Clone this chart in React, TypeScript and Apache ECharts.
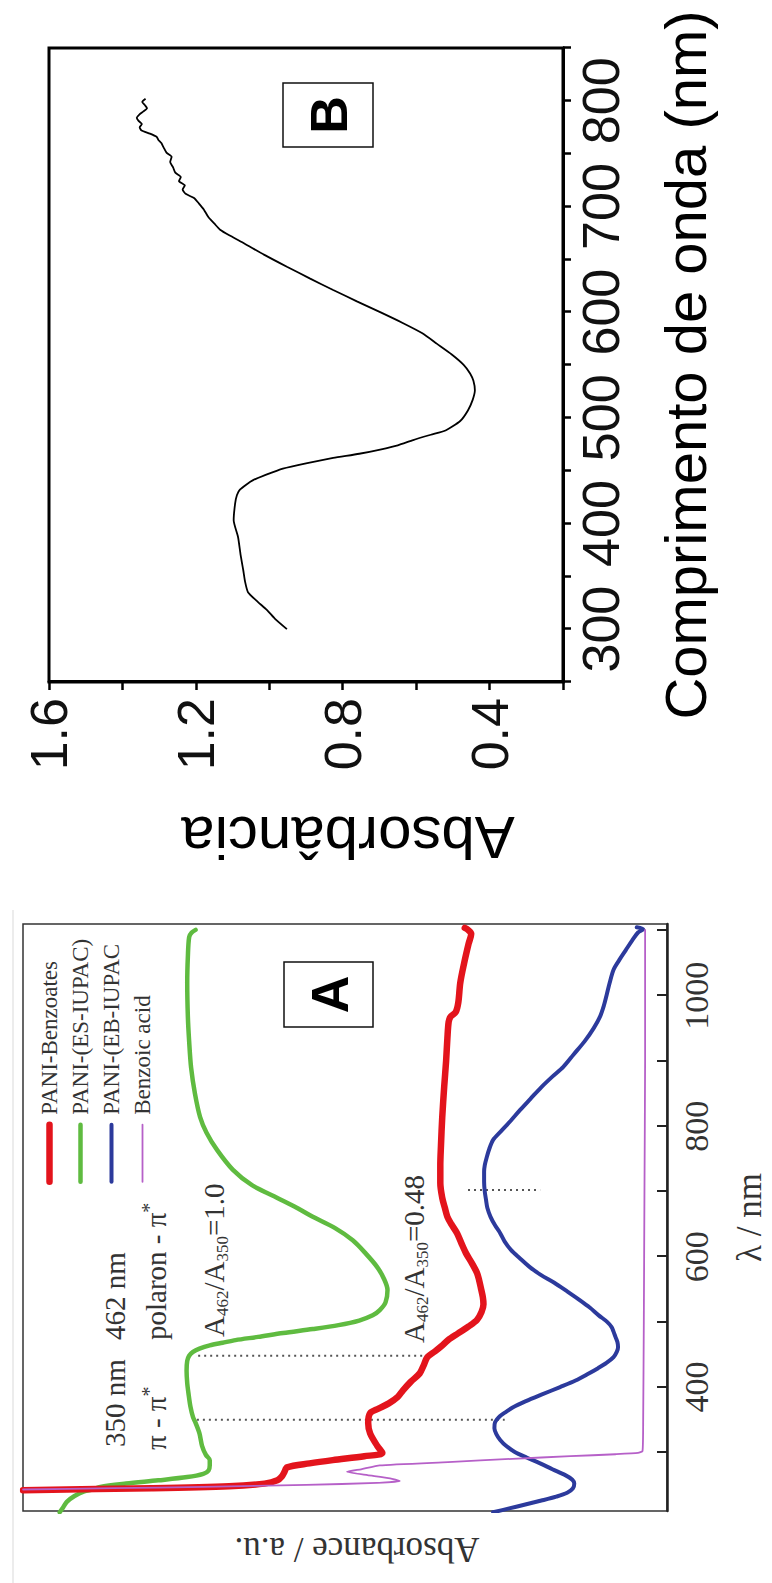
import React, { useEffect, useRef } from "react";
import * as echarts from "echarts";

// The original figure is landscape; it is drawn unrotated and the container is turned 90° CCW.
const CHART_W = 1583;
const CHART_H = 772;

const SERIF = "'Liberation Serif', 'Times New Roman', Times, serif";
const SANS = "'Liberation Sans', Arial, Helvetica, sans-serif";
const NARROW = "'Liberation Sans Narrow', 'Arial Narrow', 'Liberation Sans', sans-serif";

// ---------- Panel A (PANI spectra) ----------
const A_WL_LABELS = [400, 600, 800, 1000];
const A_WL_TICKS = [300, 400, 500, 600, 700, 800, 900, 1000, 1100];
const A_NAMES = ["PANI-Benzoates", "PANI-(ES-IUPAC)", "PANI-(EB-IUPAC", "Benzoic acid"];

const paniBenzoates: [number, number][] = [
  [242, 100], [245, 80], [248, 68], [252, 62.5], [257, 60.5], [263, 59.8], [270, 59.4], [277, 59],
  [283, 55.5], [288, 51.9], [294, 47], [299, 44.2], [310, 45], [329, 46.1], [345, 46.4], [360, 46.1],
  [367, 44.8], [375, 43.2], [385, 41.8], [395, 41], [408, 39.8], [421, 38.4], [433, 37.8], [446, 37.2],
  [455, 36], [463, 35], [472, 34], [482, 32.5], [493, 30.8], [503, 29.5], [515, 28.8], [527, 28.5],
  [538, 28.6], [552, 28.9], [565, 29.2], [575, 29.5], [590, 30.3], [605, 31.2], [620, 31.9], [636, 32.6],
  [650, 33.5], [661, 34.1], [675, 34.5], [690, 34.9], [713, 35.2], [740, 35.2], [770, 35.1], [814, 34.9],
  [860, 34.6], [900, 34.3], [935, 34.1], [960, 33.9], [968, 33.6], [975, 32.8], [990, 32.4], [1020, 32.1],
  [1050, 31.5], [1080, 30.8], [1095, 30.4], [1101, 30.9], [1104, 31.4],
];

const paniES: [number, number][] = [
  [208, 94.3], [215, 93.8], [224, 93.2], [233, 92], [240, 90.5], [243, 89.2], [247, 88], [252, 84],
  [257, 79], [262, 74.5], [267, 72], [272, 71.2], [280, 71], [288, 71], [296, 71.6], [310, 72.2],
  [329, 72.6], [345, 73.2], [354, 73.6], [370, 74], [390, 74.3], [406, 74.5], [425, 74.6], [440, 74.5],
  [448, 74.2], [454, 73.6], [459, 72.6], [464, 71], [468, 69], [472, 67], [477, 63.5], [483, 59.6],
  [489, 55], [495, 51], [502, 47.8], [510, 45.7], [518, 44.6], [530, 43.7], [549, 43.4], [565, 43.9],
  [584, 45], [605, 46.8], [625, 48.8], [644, 51.6], [661, 55], [675, 57.5], [690, 60.5], [710, 64.5],
  [733, 67.4], [764, 69.9], [790, 71.5], [814, 72.5], [850, 73.3], [890, 73.9], [930, 74.2], [968, 74.4],
  [1020, 74.5], [1060, 74.4], [1090, 74.2], [1097, 73.8], [1101, 73.2],
];

const paniEB: [number, number][] = [
  [208, 27], [214, 24.5], [220, 22], [226, 19.5], [232, 17.2], [238, 15.5], [245, 14.6], [252, 14.4],
  [258, 14.7], [265, 15.8], [274, 17.8], [283, 19.7], [292, 21.8], [301, 23.7], [310, 25], [319, 25.9],
  [328, 26.5], [337, 26.8], [346, 26.7], [355, 26], [362, 25], [369, 23.9], [378, 22], [388, 19.6],
  [400, 16.6], [410, 14.2], [420, 12.3], [429, 10.7], [437, 9.4], [446, 8.3], [454, 7.8], [461, 7.6],
  [469, 7.7], [477, 8], [485, 8.3], [492, 8.6], [500, 9.3], [510, 10.6], [522, 12], [533, 13.5],
  [546, 15.4], [560, 17.5], [572, 19.6], [584, 21.3], [598, 22.9], [610, 24.2], [623, 25.2], [636, 25.9],
  [648, 26.7], [661, 27.4], [675, 27.9], [687, 28.1], [700, 28.3], [715, 28.4], [730, 28.4], [740, 28.3],
  [752, 28], [765, 27.6], [779, 27], [792, 25.8], [808, 24.3], [825, 22.8], [842, 21.2], [860, 19.5],
  [876, 17.8], [891, 16.1], [910, 14.5], [930, 12.8], [950, 11.4], [968, 10.4], [985, 9.8], [1000, 9.4],
  [1020, 8.9], [1040, 8.3], [1055, 7.4], [1070, 6.4], [1085, 5.4], [1097, 4.5], [1102, 3.7], [1105, 4.7],
];

const benzoicAcid: [number, number][] = [
  [243, 100], [245, 86], [247, 72], [250, 56], [253, 45], [256, 41.5], [260, 43], [265, 46.5],
  [270, 49.7], [274, 47.5], [280, 44.6], [285, 34], [290, 24], [294, 15], [297, 8], [299, 4.5],
  [302, 3.8], [350, 3.7], [500, 3.6], [700, 3.5], [900, 3.4], [1101, 3.4],
];

const guide350: [number, number][] = [[350, 73.0], [350, 25.2]];
const guide462: [number, number][] = [[448, 72.8], [448, 36.8]];
const guide700: [number, number][] = [[702, 30.9], [702, 19.7]];

// ---------- Panel B ----------
const B_WL_LABELS = [300, 400, 500, 600, 700, 800];
const B_WL_TICKS = [250, 300, 350, 400, 450, 500, 550, 600, 650, 700, 750, 800, 850];
const B_ABS_LABELS = [0.4, 0.8, 1.2, 1.6];
const B_ABS_TICKS = [0.2, 0.4, 0.6, 0.8, 1.0, 1.2, 1.4, 1.6];

const spectrumB: [number, number][] = [
  [300, 0.952], [310, 0.985], [318, 1.006], [327, 1.035], [335, 1.058], [345, 1.066], [356, 1.071],
  [370, 1.078], [387, 1.085], [403, 1.097], [419, 1.093], [427, 1.088], [432, 1.08], [437, 1.062],
  [441, 1.044], [446, 1.01], [452, 0.963], [457, 0.9], [462, 0.826], [466, 0.755], [470, 0.698],
  [474, 0.65], [479, 0.608], [484, 0.56], [488, 0.52], [497, 0.48], [507, 0.459], [517, 0.446],
  [526, 0.44], [535, 0.444], [542, 0.453], [550, 0.47], [560, 0.503], [570, 0.543], [580, 0.583],
  [590, 0.638], [600, 0.698], [610, 0.76], [621, 0.826], [632, 0.89], [643, 0.952], [654, 1.012],
  [665, 1.068], [672, 1.105], [678, 1.134], [684, 1.15], [690, 1.166], [697, 1.178], [703, 1.192],
  [708, 1.205], [712, 1.228], [716, 1.236], [720, 1.23], [724, 1.246], [728, 1.241], [732, 1.256],
  [737, 1.262], [742, 1.27], [747, 1.266], [751, 1.28], [756, 1.288], [760, 1.294], [763, 1.302],
  [766, 1.307], [769, 1.325], [772, 1.348], [775, 1.353], [778, 1.347], [781, 1.356], [784, 1.361],
  [787, 1.354], [790, 1.343], [793, 1.333], [796, 1.339], [799, 1.346], [802, 1.337],
];

const COLORS = { red: "#e3141c", green: "#5fbb40", blue: "#2c3a9c", purple: "#b660c8" };
const WIDTHS = { red: 6.5, green: 4.5, blue: 4, purple: 1.8 };

function lineSeries(name: string, data: [number, number][], color: string, width: number, z: number, smooth = 0.3) {
  return {
    name,
    type: "line",
    xAxisIndex: 0,
    yAxisIndex: 0,
    data,
    symbol: "none",
    showSymbol: false,
    smooth,
    z,
    lineStyle: { color, width, cap: "round", join: "round" },
    itemStyle: { color },
  };
}

function guideSeries(data: [number, number][]) {
  return {
    type: "line",
    xAxisIndex: 0,
    yAxisIndex: 0,
    data,
    symbol: "none",
    silent: true,
    z: 1,
    lineStyle: { color: "#555", width: 2, type: [2, 4] },
  };
}

function ratioText(x: number, y: number, value: string) {
  return {
    type: "text",
    x,
    y,
    style: {
      text: `{a|A}{s|462}{a|/A}{s|350}{a|=${value}}`,
      textVerticalAlign: "middle",
      rich: {
        a: { fontFamily: SERIF, fontSize: 29, lineHeight: 34, fill: "#333", verticalAlign: "middle" },
        s: { fontFamily: SERIF, fontSize: 17, lineHeight: 14, fill: "#333", verticalAlign: "bottom" },
      },
    },
  };
}

function starText(x: number, y: number, main: string) {
  return {
    type: "text",
    x,
    y,
    style: {
      text: `{a|${main}}{p|*}`,
      textVerticalAlign: "middle",
      rich: {
        a: { fontFamily: SERIF, fontSize: 29, lineHeight: 34, fill: "#333", verticalAlign: "middle" },
        p: { fontFamily: SERIF, fontSize: 20, lineHeight: 16, fill: "#333", verticalAlign: "top" },
      },
    },
  };
}

function plainText(x: number, y: number, text: string, fontSize: number, family: string) {
  return {
    type: "text",
    x,
    y,
    style: { text, fontFamily: family, fontSize, fill: "#333", textAlign: "left", textVerticalAlign: "middle" },
  };
}

function panelLabel(x: number, y: number, w: number, h: number, letter: string) {
  return [
    { type: "rect", shape: { x, y, width: w, height: h }, style: { fill: "#fff", stroke: "#111", lineWidth: 1.5 }, z: 10 },
    {
      type: "text",
      x: x + w / 2,
      y: y + h / 2 + 1,
      z: 11,
      style: { text: letter, fontFamily: NARROW, fontWeight: "bold", fontSize: 52, fill: "#000", textAlign: "center", textVerticalAlign: "middle" },
    },
  ];
}

function legendItem(name: string, color: string, width: number) {
  return {
    name,
    itemStyle: { opacity: 0, color: "transparent", borderWidth: 0 },
    lineStyle: { color, width, cap: "round" },
  };
}

function buildOption() {
  return {
    animation: false,
    backgroundColor: "#ffffff",
    grid: [
      { left: 72, top: 23, width: 587, height: 644, show: true, borderColor: "#333", borderWidth: 1.5, backgroundColor: "transparent", outerBoundsMode: "none" },
      { left: 901, top: 49, width: 634, height: 514, show: true, borderColor: "#000", borderWidth: 3, backgroundColor: "transparent", outerBoundsMode: "none" },
    ],
    legend: {
      data: [
        legendItem(A_NAMES[0], COLORS.red, WIDTHS.red),
        legendItem(A_NAMES[1], COLORS.green, WIDTHS.green),
        legendItem(A_NAMES[2], COLORS.blue, WIDTHS.blue),
        legendItem(A_NAMES[3], COLORS.purple, WIDTHS.purple),
      ],
      orient: "vertical",
      left: 393,
      top: 33,
      itemWidth: 57,
      itemHeight: 20,
      itemGap: 8,
      selectedMode: false,
      itemStyle: { opacity: 0 },
      textStyle: { fontFamily: SERIF, fontSize: 23, color: "#333", lineHeight: 20, padding: [0, 0, 0, 5] },
    },
    xAxis: [
      {
        type: "value",
        gridIndex: 0,
        min: 210,
        max: 1110,
        position: "bottom",
        axisLine: { show: true, lineStyle: { color: "#222", width: 2.5 } },
        axisTick: { show: true, inside: true, length: 10, customValues: A_WL_TICKS, lineStyle: { color: "#222", width: 2 } },
        axisLabel: {
          show: true,
          customValues: A_WL_LABELS,
          formatter: (v: number) => String(v),
          margin: 12,
          fontFamily: SERIF,
          fontSize: 34,
          color: "#333",
        },
        splitLine: { show: false },
        name: "λ / nm",
        nameLocation: "middle",
        nameGap: 65,
        nameMoveOverlap: false,
        nameTextStyle: { fontFamily: SERIF, fontSize: 35, color: "#333" },
      },
      {
        type: "value",
        gridIndex: 1,
        min: 250,
        max: 850,
        position: "bottom",
        axisLine: { show: true, lineStyle: { color: "#000", width: 3 } },
        axisTick: { show: true, inside: false, length: 8, customValues: B_WL_TICKS, lineStyle: { color: "#000", width: 2.5 } },
        axisLabel: {
          show: true,
          customValues: B_WL_LABELS,
          formatter: (v: number) => String(v),
          margin: 12,
          fontFamily: NARROW,
          fontSize: 52,
          color: "#111",
        },
        splitLine: { show: false },
        name: "Comprimento de onda (nm)",
        nameLocation: "middle",
        nameGap: 93,
        nameMoveOverlap: false,
        nameTextStyle: { fontFamily: SANS, fontSize: 58, color: "#000" },
      },
    ],
    yAxis: [
      {
        type: "value",
        gridIndex: 0,
        min: 0,
        max: 100,
        axisLine: { show: false },
        axisTick: { show: false },
        axisLabel: { show: false },
        splitLine: { show: false },
      },
      {
        type: "value",
        gridIndex: 1,
        min: 0.2,
        max: 1.6,
        axisLine: { show: true, lineStyle: { color: "#000", width: 3 } },
        axisTick: { show: true, inside: false, length: 8, customValues: B_ABS_TICKS, lineStyle: { color: "#000", width: 2.5 } },
        axisLabel: {
          show: true,
          customValues: B_ABS_LABELS,
          formatter: (v: number) => v.toFixed(1),
          margin: 16,
          fontFamily: NARROW,
          fontSize: 52,
          color: "#111",
        },
        splitLine: { show: false },
      },
    ],
    series: [
      guideSeries(guide350),
      guideSeries(guide462),
      guideSeries(guide700),
      lineSeries(A_NAMES[1], paniES, COLORS.green, WIDTHS.green, 3),
      lineSeries(A_NAMES[2], paniEB, COLORS.blue, WIDTHS.blue, 4),
      lineSeries(A_NAMES[0], paniBenzoates, COLORS.red, WIDTHS.red, 5),
      lineSeries(A_NAMES[3], benzoicAcid, COLORS.purple, WIDTHS.purple, 6, 0.15),
      {
        type: "line",
        xAxisIndex: 1,
        yAxisIndex: 1,
        data: spectrumB,
        symbol: "none",
        smooth: 0.2,
        lineStyle: { color: "#000", width: 1.8 },
        z: 3,
      },
    ],
    graphic: [
      // faint edge of the pasted panel A picture
      { type: "line", shape: { x1: 0, y1: 13, x2: 673, y2: 13 }, style: { stroke: "#ececec", lineWidth: 2 }, z: 0 },
      ...panelLabel(556, 284, 65, 89, "A"),
      ...panelLabel(1436, 283, 64, 90, "B"),
      // annotations of panel A
      plainText(136, 115, "350 nm", 29, SERIF),
      plainText(243, 115, "462 nm", 29, SERIF),
      starText(133, 156, "π - π"),
      starText(243, 156, "polaron - π"),
      ratioText(246, 214, "1.0"),
      ratioText(240, 414, "0.48"),
      // rotated y-axis titles
      {
        type: "text",
        x: 34,
        y: 357,
        rotation: Math.PI / 2,
        style: { text: "Absorbance / a.u.", fontFamily: SERIF, fontSize: 35, fill: "#333", textAlign: "center", textVerticalAlign: "middle" },
      },
      {
        type: "text",
        x: 746,
        y: 348,
        rotation: Math.PI / 2,
        style: { text: "Absorbância", fontFamily: SANS, fontSize: 60, fill: "#000", textAlign: "center", textVerticalAlign: "middle" },
      },
    ],
  };
}

export default function App() {
  const ref = useRef<HTMLDivElement>(null);
  useEffect(() => {
    const el = ref.current;
    if (!el) return;
    const chart = echarts.init(el, undefined, { renderer: "svg", width: CHART_W, height: CHART_H });
    chart.setOption(buildOption() as any);
    return () => chart.dispose();
  }, []);
  return (
    <div style={{ position: "fixed", left: 0, top: 0, width: 772, height: 1583, overflow: "hidden", background: "#fff" }}>
      <div
        ref={ref}
        style={{
          position: "absolute",
          left: 0,
          top: 0,
          width: CHART_W,
          height: CHART_H,
          transformOrigin: "0 0",
          transform: `translate(0px, ${CHART_W}px) rotate(-90deg)`,
        }}
      />
    </div>
  );
}
